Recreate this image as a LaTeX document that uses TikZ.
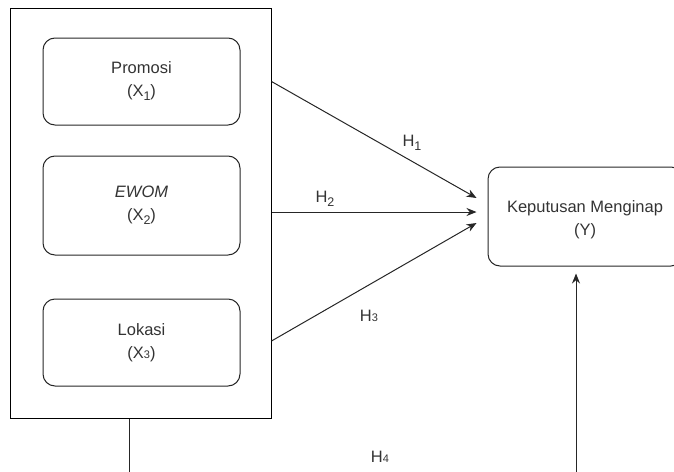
\documentclass[tikz,border=0pt]{standalone}
\usepackage{fontspec}
\setmainfont{Liberation Sans}
\usetikzlibrary{arrows.meta,calc}
\definecolor{txt}{HTML}{333333}
\newcommand{\lowsub}[1]{{\fontsize{11}{11}\selectfont #1}}
\newcommand{\bigsub}[1]{\raisebox{-4pt}{\fontsize{12.5}{12.5}\selectfont #1}}
\begin{document}
\begin{tikzpicture}[x=1pt,y=-1pt,
  frame/.style={draw=black, line width=1pt, inner sep=0pt},
  varbox/.style={draw=black!85, line width=1pt, rounded corners=12pt, minimum width=197pt, inner sep=0pt},
  vartext/.style={align=center, font=\fontsize{16.5}{23}\selectfont, text=txt, inner sep=0pt},
  conn/.style={draw=black!85, line width=1pt, -{Stealth[length=10pt,width=8pt]}},
  hlab/.style={font=\fontsize{16.5}{20}\selectfont, text=txt, inner sep=0pt}
]
\useasboundingbox (0,0) rectangle (674,471);
\clip (0,0) rectangle (674,471);
\node[frame, minimum width=261pt, minimum height=410pt] (outer) at (140.5,213) {};
\node[varbox, minimum height=87pt] (b1) at (141.5,81.5) {};
\node[vartext] (t1) at (141.5,81.5) {Promosi\\(X\bigsub{1})};
\node[varbox, minimum height=99pt] (b2) at (141.5,205.5) {};
\node[vartext] (t2) at (141.5,205) {\textit{EWOM}\\(X\bigsub{2})};
\node[varbox, minimum height=87pt] (b3) at (141.5,342.5) {};
\node[vartext] (t3) at (141.5,343) {Lokasi\\(X\lowsub{3})};
\node[varbox, minimum width=195pt, minimum height=99pt] (yb) at (585.5,216.5) {};
\node[vartext] (ty) at (585,219.5) {Keputusan Menginap\\(Y)};
\draw[conn] (outer.north east |- b1.center) -- ($(yb.west)+(-11,-18.5)$);
\draw[conn] ($(outer.north east |- b2.center)+(0,6.5)$) -- ($(yb.west)+(-11,-4.5)$);
\draw[conn] ($(outer.north east |- b3.center)+(0,-1.5)$) -- ($(yb.west)+(-11,6.5)$);
\draw[conn] ($(outer.south west)+(120,0)$) -- ++(0,75) -| ($(yb.south)+(-9.5,7)$);
\node[hlab] (h1) at (412,143) {H\bigsub{1}};
\node[hlab] (h2) at (325,199) {H\bigsub{2}};
\node[hlab] (h3) at (369,316) {H\lowsub{3}};
\node[hlab] (h4) at (380,457) {H\lowsub{4}};
\end{tikzpicture}
\end{document}
